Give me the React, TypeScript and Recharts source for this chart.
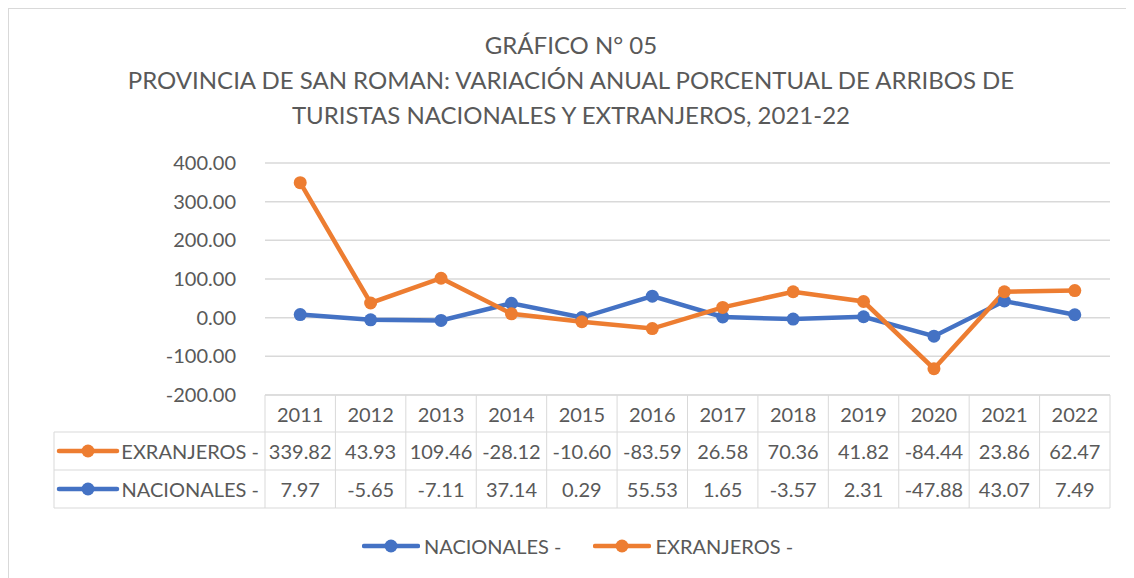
import { LineChart, Line, XAxis, YAxis, CartesianGrid, Legend } from 'recharts';

const years = ['2011', '2012', '2013', '2014', '2015', '2016', '2017', '2018', '2019', '2020', '2021', '2022'];
// values as printed in the data table
const exranjerosTable = [339.82, 43.93, 109.46, -28.12, -10.6, -83.59, 26.58, 70.36, 41.82, -84.44, 23.86, 62.47];
const nacionalesTable = [7.97, -5.65, -7.11, 37.14, 0.29, 55.53, 1.65, -3.57, 2.31, -47.88, 43.07, 7.49];
// values as drawn by the lines
const exranjerosLine = [349, 38, 102, 10, -10.6, -28.1, 26.6, 67, 41.8, -132, 67, 70];
const nacionalesLine = [7.97, -5.65, -7.11, 37.14, 0.29, 55.53, 1.65, -3.57, 2.31, -47.88, 43.07, 7.49];
const yTicks = [-200, -100, 0, 100, 200, 300, 400];

const BLUE = '#4472C4';
const ORANGE = '#ED7D31';
const TEXT = '#595959';
const GRID = '#D9D9D9';
const FONT = 'Lato, "Open Sans", sans-serif';

const W = 1124;
const H = 568;
const Y_AXIS_W = 256;
const M_RIGHT = 23;
const BAND = (W - Y_AXIS_W - M_RIGHT) / years.length;
const ROW1 = 37;
const ROW2 = 38;
const ROW3 = 38;
const KEY_LEFT = 45;

const data = years.map((y, i) => ({
  year: y,
  nac: nacionalesLine[i],
  exr: exranjerosLine[i],
}));

function KeyGlyph({ x, y, color }: { x: number; y: number; color: string }) {
  return (
    <g>
      <line x1={x} y1={y} x2={x + 58} y2={y} stroke={color} strokeWidth={4.5} strokeLinecap='round' />
      <circle cx={x + 29} cy={y} r={6.5} fill={color} />
    </g>
  );
}

function TableTick(props: any) {
  const { x, y, payload } = props;
  const i = payload.index;
  const l = x - BAND / 2;
  const r = x + BAND / 2;
  const y1 = y + ROW1;
  const y2 = y1 + ROW2;
  const y3 = y2 + ROW3;
  const txt = { fill: TEXT, fontSize: 20, fontFamily: FONT, textAnchor: 'middle' as const, dominantBaseline: 'central' as const };
  return (
    <g>
      <line x1={l} y1={y} x2={r} y2={y} stroke={GRID} />
      <line x1={l} y1={y1} x2={r} y2={y1} stroke={GRID} />
      <line x1={l} y1={y2} x2={r} y2={y2} stroke={GRID} />
      <line x1={l} y1={y3} x2={r} y2={y3} stroke={GRID} />
      <line x1={r} y1={y} x2={r} y2={y3} stroke={GRID} />
      {i === 0 && (
        <g>
          <line x1={l} y1={y} x2={l} y2={y3} stroke={GRID} />
          <line x1={KEY_LEFT} y1={y1} x2={l} y2={y1} stroke={GRID} />
          <line x1={KEY_LEFT} y1={y2} x2={l} y2={y2} stroke={GRID} />
          <line x1={KEY_LEFT} y1={y3} x2={l} y2={y3} stroke={GRID} />
          <line x1={KEY_LEFT} y1={y1} x2={KEY_LEFT} y2={y3} stroke={GRID} />
          <KeyGlyph x={KEY_LEFT + 5} y={y1 + ROW2 / 2} color={ORANGE} />
          <KeyGlyph x={KEY_LEFT + 5} y={y2 + ROW3 / 2} color={BLUE} />
          <text {...txt} x={l - 6} y={y1 + ROW2 / 2} textAnchor='end'>EXRANJEROS -</text>
          <text {...txt} x={l - 6} y={y2 + ROW3 / 2} textAnchor='end'>NACIONALES -</text>
        </g>
      )}
      <text {...txt} x={x} y={y + ROW1 / 2}>{payload.value}</text>
      <text {...txt} x={x} y={y1 + ROW2 / 2}>{exranjerosTable[i].toFixed(2)}</text>
      <text {...txt} x={x} y={y2 + ROW3 / 2}>{nacionalesTable[i].toFixed(2)}</text>
    </g>
  );
}

function LegendContent() {
  const items = [
    { label: 'NACIONALES -', color: BLUE },
    { label: 'EXRANJEROS -', color: ORANGE },
  ];
  return (
    <div style={{ display: 'flex', justifyContent: 'center', gap: 32, paddingTop: 26, paddingLeft: 36, fontFamily: FONT, fontSize: 20, color: TEXT }}>
      {items.map((it) => (
        <div key={it.label} style={{ display: 'flex', alignItems: 'center', gap: 4 }}>
          <svg width={58} height={16}>
            <line x1={2} y1={8} x2={56} y2={8} stroke={it.color} strokeWidth={4.5} strokeLinecap='round' />
            <circle cx={29} cy={8} r={6.5} fill={it.color} />
          </svg>
          <span>{it.label}</span>
        </div>
      ))}
    </div>
  );
}

export default function App() {
  return (
    <div style={{ position: 'relative', width: W + 2, height: H + 2, boxSizing: 'border-box', borderTop: `1px solid ${GRID}`, borderLeft: `1px solid ${GRID}`, background: '#fff' }}>
      <div style={{ position: 'absolute', top: 18, left: 0, width: W, textAlign: 'center', fontFamily: FONT, fontSize: 24, lineHeight: '35px', color: TEXT }}>
        <div>GRÁFICO N° 05</div>
        <div>PROVINCIA DE SAN ROMAN: VARIACIÓN ANUAL PORCENTUAL DE ARRIBOS DE</div>
        <div>TURISTAS NACIONALES Y EXTRANJEROS, 2021-22</div>
      </div>
      <div style={{ position: 'absolute', top: 0, left: 0 }}>
        <LineChart width={W} height={H} data={data} margin={{ top: 154, right: M_RIGHT, bottom: 16, left: 0 }}>
          <CartesianGrid vertical={false} stroke={GRID} strokeWidth={1.5} />
          <XAxis
            dataKey='year'
            scale='band'
            axisLine={false}
            tickLine={false}
            tickSize={0}
            tickMargin={0}
            height={113}
            interval={0}
            tick={<TableTick />}
          />
          <YAxis
            domain={[-200, 400]}
            ticks={yTicks}
            width={Y_AXIS_W}
            axisLine={false}
            tickLine={false}
            tickSize={0}
            tickMargin={29}
            tickFormatter={(v: number) => v.toFixed(2)}
            tick={{ fill: TEXT, fontSize: 20, fontFamily: FONT }}
          />
          <Legend verticalAlign='bottom' height={53} content={<LegendContent />} />
          <Line
            dataKey='nac'
            name='NACIONALES -'
            stroke={BLUE}
            strokeWidth={4.5}
            dot={{ r: 6.5, fill: BLUE, stroke: BLUE, strokeWidth: 0 }}
            activeDot={false}
            isAnimationActive={false}
          />
          <Line
            dataKey='exr'
            name='EXRANJEROS -'
            stroke={ORANGE}
            strokeWidth={4.5}
            dot={{ r: 6.5, fill: ORANGE, stroke: ORANGE, strokeWidth: 0 }}
            activeDot={false}
            isAnimationActive={false}
          />
        </LineChart>
      </div>
    </div>
  );
}
